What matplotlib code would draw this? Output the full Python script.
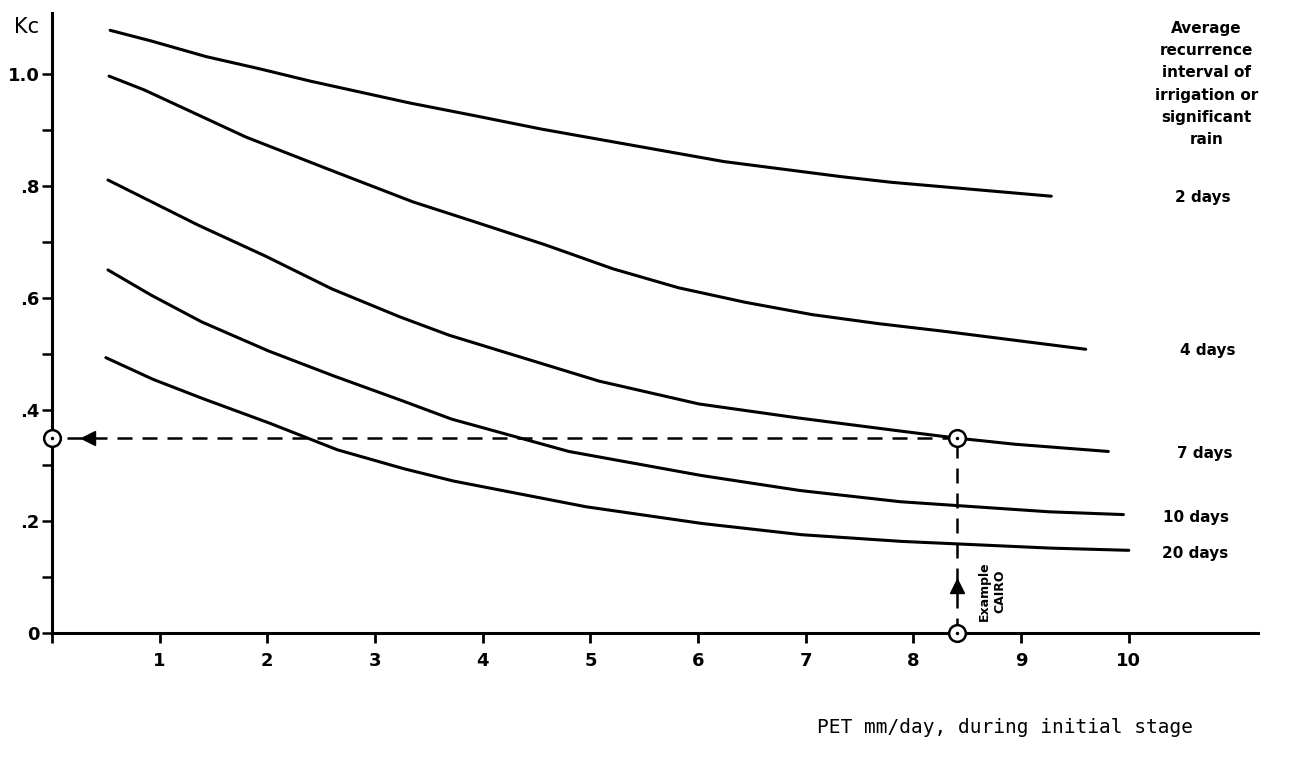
import matplotlib
matplotlib.use("Agg")
import matplotlib.pyplot as plt

# curves (PET mm/day, Kc)
pet_2d = [0.54, 0.92, 1.43, 1.93, 2.40, 3.32, 3.93, 4.55, 6.24, 7.33, 7.79, 9.28]
kc_2d = [1.079, 1.060, 1.032, 1.010, 0.988, 0.949, 0.926, 0.902, 0.844, 0.817, 0.807, 0.782]

pet_4d = [0.53, 0.86, 1.80, 2.57, 3.35, 3.96, 4.58, 5.21, 5.82, 6.44, 7.06, 7.67, 8.29, 9.60]
kc_4d = [0.997, 0.972, 0.888, 0.830, 0.772, 0.734, 0.695, 0.652, 0.618, 0.592, 0.570, 0.554, 0.540, 0.508]

pet_7d = [0.52, 1.36, 1.98, 2.60, 3.23, 3.69, 5.08, 6.01, 6.93, 7.86, 8.40, 8.94, 9.81]
kc_7d = [0.811, 0.730, 0.675, 0.616, 0.566, 0.533, 0.451, 0.410, 0.385, 0.362, 0.349, 0.338, 0.325]

pet_10d = [0.52, 0.92, 1.39, 2.01, 2.62, 3.25, 3.71, 4.80, 6.03, 6.95, 7.88, 9.26, 9.95]
kc_10d = [0.650, 0.605, 0.557, 0.505, 0.460, 0.416, 0.383, 0.325, 0.282, 0.255, 0.235, 0.217, 0.212]

pet_20d = [0.50, 0.94, 1.41, 2.03, 2.65, 3.27, 3.73, 4.96, 6.04, 6.96, 7.89, 9.27, 10.00]
kc_20d = [0.493, 0.454, 0.419, 0.375, 0.328, 0.294, 0.272, 0.226, 0.196, 0.176, 0.164, 0.152, 0.148]

curve_labels = ["2 days", "4 days", "7 days", "10 days", "20 days"]
label_pos = [(10.69, 0.779), (10.73, 0.506), (10.71, 0.322), (10.62, 0.207), (10.62, 0.142)]

# example reading for Cairo
ex_pet = 8.4
ex_kc = 0.35

x_ticks = list(range(0, 11))
x_ticklabels = [""] + [str(i) for i in range(1, 11)]
y_ticks = [0, 0.2, 0.4, 0.6, 0.8, 1.0]
y_ticklabels = ["0", ".2", ".4", ".6", ".8", "1.0"]
y_minor = [0.1, 0.3, 0.5, 0.7, 0.9]

fig = plt.figure(figsize=(13.03, 7.76), dpi=100)
ax = fig.add_axes([52/1303, 143/776, 1206/1303, 620/776])

lw = 2.2
for px, ky in [(pet_2d, kc_2d), (pet_4d, kc_4d), (pet_7d, kc_7d), (pet_10d, kc_10d), (pet_20d, kc_20d)]:
	ax.plot(px, ky, color="black", lw=lw, solid_capstyle="round", solid_joinstyle="round")

# dashed reading lines
ax.plot([ex_pet, 0], [ex_kc, ex_kc], color="black", lw=1.8, dashes=(6, 4))
ax.plot([ex_pet, ex_pet], [0, ex_kc], color="black", lw=1.8, dashes=(6, 4))
ax.plot(0.33, ex_kc, marker="<", ms=10, color="black", clip_on=False)
ax.plot(ex_pet, 0.085, marker="^", ms=10, color="black", clip_on=False)
ax.plot([0, ex_pet, ex_pet], [ex_kc, ex_kc, 0], "o", ms=12, mfc="white", mec="black", mew=1.8, clip_on=False, zorder=5)
ax.plot([0, ex_pet, ex_pet], [ex_kc, ex_kc, 0], "k.", ms=3, clip_on=False, zorder=6)

ax.set_xlim(0, 11.2)
ax.set_ylim(0, 1.11)

for s in ["top", "right"]:
	ax.spines[s].set_visible(False)
for s in ["left", "bottom"]:
	ax.spines[s].set_linewidth(2.2)

ax.set_xticks(x_ticks)
ax.set_xticklabels(x_ticklabels, fontsize=13, fontweight="bold")
ax.set_yticks(y_ticks)
ax.set_yticklabels(y_ticklabels, fontsize=13, fontweight="bold")
ax.set_yticks(y_minor, minor=True)
ax.tick_params(axis="x", direction="out", length=7, width=2, pad=7)
ax.tick_params(axis="y", which="both", direction="out", length=7, width=1.8, pad=2)

for txt, (lx, ly) in zip(curve_labels, label_pos):
	ax.text(lx, ly, txt, ha="center", va="center", fontsize=11, fontweight="bold")

ax.text(10.72, 0.983, "Average\nrecurrence\ninterval of\nirrigation or\nsignificant\nrain",
	ha="center", va="center", fontsize=11, fontweight="bold", linespacing=1.6)

ax.text(8.73, 0.074, "Example\nCAIRO", rotation=90, ha="center", va="center", fontsize=9, fontweight="bold")

ax.text(-0.24, 1.085, "Kc", ha="center", va="center", fontsize=15)

ax.text(8.85, -0.17, "PET mm/day, during initial stage", ha="center", va="center",
	fontsize=14, family="DejaVu Sans Mono")

fig.savefig("out.png", dpi=100)
